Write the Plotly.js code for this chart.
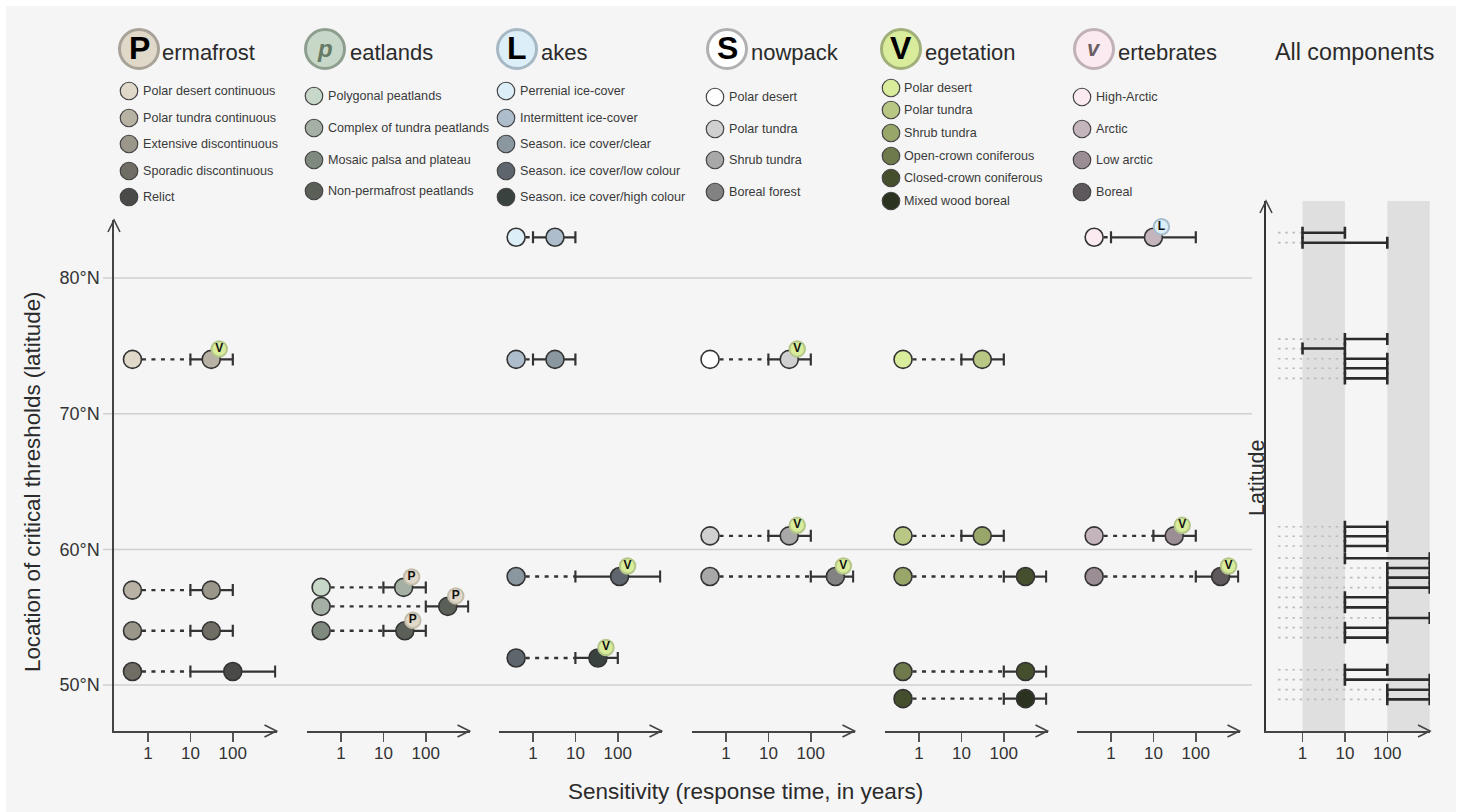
<!DOCTYPE html>
<html>
<head>
<meta charset="utf-8">
<script src="https://cdn.plot.ly/plotly-3.0.1.min.js"></script>
<style>html,body{margin:0;padding:0;background:#fff}</style>
</head>
<body>
<div id="chart" style="width:1464px;height:812px"></div>
<script>
// ---------- data ----------
const xTickValues = [1, 10, 100];
const xTickLabels = ['1', '10', '100'];
const latTickValues = [50, 60, 70, 80];
const latTickLabels = ['50°N', '60°N', '70°N', '80°N'];

const permafrostClasses = ['Polar desert continuous', 'Polar tundra continuous', 'Extensive discontinuous', 'Sporadic discontinuous', 'Relict'];
const permafrostLat = [74, 57, 54, 51];
const permafrostStart = [0.43, 0.43, 0.43, 0.43];
const permafrostLow = [10, 10, 10, 10];
const permafrostHigh = [100, 100, 100, 1000];
const permafrostMid = [31, 31, 31, 100];
const permafrostFrom = [0, 1, 2, 3];
const permafrostTo = [1, 2, 3, 4];
const permafrostBadges = ['V', '', '', ''];

const peatlandClasses = ['Polygonal peatlands', 'Complex of tundra peatlands', 'Mosaic palsa and plateau', 'Non-permafrost peatlands'];
const peatlandLat = [57.2, 55.8, 54];
const peatlandStart = [0.34, 0.34, 0.34];
const peatlandLow = [10, 100, 10];
const peatlandHigh = [100, 1000, 100];
const peatlandMid = [30, 330, 32];
const peatlandFrom = [0, 1, 2];
const peatlandTo = [1, 3, 3];
const peatlandBadges = ['P', 'P', 'P'];

const lakeClasses = ['Perrenial ice-cover', 'Intermittent ice-cover', 'Season. ice cover/clear', 'Season. ice cover/low colour', 'Season. ice cover/high colour'];
const lakeLat = [83, 74, 58, 52];
const lakeStart = [0.4, 0.4, 0.4, 0.4];
const lakeLow = [1, 1, 10, 10];
const lakeHigh = [10, 10, 1000, 100];
const lakeMid = [3.3, 3.3, 110, 34];
const lakeFrom = [0, 1, 2, 3];
const lakeTo = [1, 2, 3, 4];
const lakeBadges = ['', '', 'V', 'V'];

const snowClasses = ['Polar desert', 'Polar tundra', 'Shrub tundra', 'Boreal forest'];
const snowLat = [74, 61, 58];
const snowStart = [0.42, 0.42, 0.42];
const snowLow = [10, 10, 100];
const snowHigh = [100, 100, 1000];
const snowMid = [31, 31, 380];
const snowFrom = [0, 1, 2];
const snowTo = [1, 2, 3];
const snowBadges = ['V', 'V', 'V'];

const vegetationClasses = ['Polar desert', 'Polar tundra', 'Shrub tundra', 'Open-crown coniferous', 'Closed-crown coniferous', 'Mixed wood boreal'];
const vegetationLat = [74, 61, 58, 51, 49];
const vegetationStart = [0.42, 0.42, 0.42, 0.42, 0.42];
const vegetationLow = [10, 10, 100, 100, 100];
const vegetationHigh = [100, 100, 1000, 1000, 1000];
const vegetationMid = [31, 31, 325, 325, 325];
const vegetationFrom = [0, 1, 2, 3, 4];
const vegetationTo = [1, 2, 4, 4, 5];
const vegetationBadges = ['', '', '', '', ''];

const vertebrateClasses = ['High-Arctic', 'Arctic', 'Low arctic', 'Boreal'];
const vertebrateLat = [83, 61, 58];
const vertebrateStart = [0.4, 0.4, 0.4];
const vertebrateLow = [1, 10, 100];
const vertebrateHigh = [100, 100, 1000];
const vertebrateMid = [10, 31, 385];
const vertebrateFrom = [0, 1, 2];
const vertebrateTo = [1, 2, 3];
const vertebrateBadges = ['L', 'V', 'V'];

const allLat = [83.34, 82.6, 75.5, 74.8, 74.05, 73.35, 72.6, 61.67, 60.97, 60.25, 59.35, 58.63, 57.92, 57.18, 56.47, 55.73, 54.95, 54.23, 53.5, 51.13, 50.4, 49.66, 48.95];
const allLow = [1, 1, 10, 1, 10, 10, 10, 10, 10, 10, 10, 100, 100, 100, 10, 10, 100, 10, 10, 10, 10, 100, 100];
const allHigh = [10, 100, 100, 10, 100, 100, 100, 100, 100, 100, 1000, 1000, 1000, 1000, 100, 100, 1000, 100, 100, 100, 1000, 1000, 1000];
const allStart = 0.265;

// ---------- styles and layout ----------
const permafrostPalette = ['#e0d8c8', '#b8b2a4', '#9a968a', '#706e64', '#4a4a48'];
const peatlandPalette = ['#c8d8c8', '#a4b0a4', '#7e8a7e', '#5a6058'];
const lakePalette = ['#dceef8', '#aebdcc', '#8a979f', '#5e656c', '#3a4240'];
const snowPalette = ['#ffffff', '#d0d0d0', '#a8a8a8', '#828282'];
const vegetationPalette = ['#d8ec9c', '#b8c884', '#98a66a', '#6e7a4c', '#454f2e', '#2b3320'];
const vertebratePalette = ['#fbeaef', '#c4b4bc', '#9a8e94', '#5e585c'];

const W = 1464, H = 812, FONT = '"Liberation Sans", Arial, sans-serif';
const fx = p => p / W, fy = p => 1 - p / H;
const BOTTOM = 731, TOP = 220, TOP_ALL = 201, DEC = 42.4;
const pxLat = p => 80 - (p - 278) / 13.57;
const INK = '#333333';

const panels = [
  {tick1: 148, lat: permafrostLat, start: permafrostStart, low: permafrostLow, high: permafrostHigh, mid: permafrostMid, from: permafrostFrom, to: permafrostTo, badges: permafrostBadges, pal: permafrostPalette,
   classes: permafrostClasses, cx: 139, head: 'P', rest: 'ermafrost', restX: 161, lx: 129, ly: [91, 118, 144, 171, 197], ring: '#a8a298', letter: {size: 32, color: '#000', bold: true}},
  {tick1: 341, lat: peatlandLat, start: peatlandStart, low: peatlandLow, high: peatlandHigh, mid: peatlandMid, from: peatlandFrom, to: peatlandTo, badges: peatlandBadges, pal: peatlandPalette,
   classes: peatlandClasses, cx: 325, head: 'p', rest: 'eatlands', restX: 349, lx: 314, ly: [96, 128, 160, 191], ring: '#8f9f8f', letter: {size: 24, color: '#667a66', bold: true, italic: true}},
  {tick1: 533, lat: lakeLat, start: lakeStart, low: lakeLow, high: lakeHigh, mid: lakeMid, from: lakeFrom, to: lakeTo, badges: lakeBadges, pal: lakePalette,
   classes: lakeClasses, cx: 517, head: 'L', rest: 'akes', restX: 540, lx: 506, ly: [91, 118, 144, 171, 197], ring: '#a6b8c4', letter: {size: 32, color: '#000', bold: true}},
  {tick1: 726, lat: snowLat, start: snowStart, low: snowLow, high: snowHigh, mid: snowMid, from: snowFrom, to: snowTo, badges: snowBadges, pal: snowPalette,
   classes: snowClasses, cx: 727, head: 'S', rest: 'nowpack', restX: 750, lx: 715, ly: [97, 129, 160, 192], ring: '#b0b0b0', letter: {size: 32, color: '#000', bold: true}},
  {tick1: 919, lat: vegetationLat, start: vegetationStart, low: vegetationLow, high: vegetationHigh, mid: vegetationMid, from: vegetationFrom, to: vegetationTo, badges: vegetationBadges, pal: vegetationPalette,
   classes: vegetationClasses, cx: 901, head: 'V', rest: 'egetation', restX: 924, lx: 891, ly: [88, 110, 133, 156, 178, 201], ring: '#a0b078', letter: {size: 32, color: '#000', bold: true}},
  {tick1: 1111, lat: vertebrateLat, start: vertebrateStart, low: vertebrateLow, high: vertebrateHigh, mid: vertebrateMid, from: vertebrateFrom, to: vertebrateTo, badges: vertebrateBadges, pal: vertebratePalette,
   classes: vertebrateClasses, cx: 1094, head: 'v', rest: 'ertebrates', restX: 1117, lx: 1082, ly: [97, 129, 160, 192], ring: '#c0b0b8', letter: {size: 22, color: '#6b5f66', bold: true, italic: true}}
];
const badgeStyle = {
  P: {fill: '#e0d8c8', ring: '#c4bdac'},
  V: {fill: '#d8ec9c', ring: '#b4c688'},
  L: {fill: '#dceef8', ring: '#a6bccb'}
};

const traces = [], shapes = [], annotations = [];
const layout = {
  width: W, height: H, autosize: false, showlegend: false, hovermode: false,
  margin: {l: 0, r: 0, t: 0, b: 0, pad: 0},
  paper_bgcolor: '#ffffff', plot_bgcolor: 'rgba(0,0,0,0)',
  font: {family: FONT, color: INK}
};

function xAxis(left, right, tick1, anchor) {
  return {
    type: 'log', domain: [fx(left), fx(right)],
    range: [(left - tick1) / DEC, (right - tick1) / DEC],
    anchor: anchor, tickmode: 'array', tickvals: xTickValues, ticktext: xTickLabels,
    ticks: 'outside', ticklen: 9, tickwidth: 1.5, tickcolor: '#555', ticklabelstandoff: -3,
    tickfont: {size: 17, color: '#333'}, showgrid: false, zeroline: false,
    showline: true, linecolor: '#444', linewidth: 1.6
  };
}
function arrowRight(tip, y) {
  shapes.push({type: 'path', xref: 'paper', yref: 'paper', layer: 'above',
    path: `M ${fx(tip - 12)} ${fy(y - 6)} L ${fx(tip)} ${fy(y)} L ${fx(tip - 12)} ${fy(y + 6)}`,
    line: {color: '#444', width: 1.6}});
}
function arrowUp(x, tip) {
  shapes.push({type: 'path', xref: 'paper', yref: 'paper', layer: 'above',
    path: `M ${fx(x - 6)} ${fy(tip + 12)} L ${fx(x)} ${fy(tip)} L ${fx(x + 6)} ${fy(tip + 12)}`,
    line: {color: '#444', width: 1.6}});
}
function note(text, x, y, size, opt) {
  annotations.push(Object.assign({text: text, x: fx(x), y: fy(y), xref: 'paper', yref: 'paper',
    showarrow: false, xanchor: 'left', yanchor: 'middle', borderpad: 0,
    font: {family: FONT, size: size, color: '#2b2b2b'}}, opt || {}));
}
function circle(cx, cy, d, fill, ring, lw) {
  shapes.push({type: 'circle', xref: 'paper', yref: 'paper', layer: 'above',
    x0: fx(cx - d / 2), x1: fx(cx + d / 2), y0: fy(cy + d / 2), y1: fy(cy - d / 2),
    fillcolor: fill, line: {color: ring, width: lw}});
}

// page background
shapes.push({type: 'rect', xref: 'paper', yref: 'paper', layer: 'below',
  x0: fx(6), x1: fx(1456), y0: 0, y1: fy(6), fillcolor: '#f5f5f5', line: {width: 0}});
// horizontal rules
latTickValues.forEach(v => shapes.push({type: 'line', xref: 'paper', yref: 'y', layer: 'below',
  x0: fx(103), x1: fx(1252), y0: v, y1: v, line: {color: '#cfcfcf', width: 1.5}}));

// latitude axes
layout.yaxis = {
  domain: [fy(BOTTOM), fy(TOP)], range: [pxLat(BOTTOM), pxLat(TOP)], anchor: 'x',
  tickmode: 'array', tickvals: latTickValues, ticktext: latTickLabels,
  ticks: 'outside', ticklen: 9, tickcolor: 'rgba(0,0,0,0)', tickfont: {size: 18, color: '#333'},
  showgrid: false, zeroline: false, showline: true, linecolor: '#444', linewidth: 1.6
};
layout.yaxis2 = {
  domain: [fy(BOTTOM), fy(TOP_ALL)], range: [pxLat(BOTTOM), pxLat(TOP_ALL)], anchor: 'x7',
  showticklabels: false, ticks: '', showgrid: false, zeroline: false,
  showline: true, linecolor: '#333', linewidth: 1.6
};
arrowUp(114, TOP);
arrowUp(1266, TOP_ALL);

panels.forEach((p, i) => {
  const id = i === 0 ? 'x' : 'x' + (i + 1);
  const left = p.tick1 - 34, right = p.tick1 + 128.5;
  layout['xaxis' + (i === 0 ? '' : i + 1)] = xAxis(left, right, p.tick1, 'y');
  arrowRight(right, BOTTOM);

  // dashed lead-in lines
  const dx = [], dy = [];
  p.lat.forEach((lat, k) => { dx.push(p.start[k], p.low[k], null); dy.push(lat, lat, null); });
  traces.push({type: 'scatter', mode: 'lines', xaxis: id, yaxis: 'y', x: dx, y: dy, cliponaxis: false,
    line: {color: INK, width: 2.4, dash: '4px,5.5px'}});
  // sensitivity range + response marker
  traces.push({type: 'scatter', mode: 'markers', xaxis: id, yaxis: 'y', x: p.mid, y: p.lat, cliponaxis: false,
    error_x: {type: 'data', symmetric: false,
      array: p.high.map((h, k) => h - p.mid[k]), arrayminus: p.low.map((l, k) => p.mid[k] - l),
      color: INK, thickness: 2.2, width: 6},
    marker: {size: 18, color: p.to.map(c => p.pal[c]), line: {color: INK, width: 1.6}}});
  // state marker on the left
  traces.push({type: 'scatter', mode: 'markers', xaxis: id, yaxis: 'y', x: p.start, y: p.lat, cliponaxis: false,
    marker: {size: 18, color: p.from.map(c => p.pal[c]), line: {color: INK, width: 1.6}}});
  // interaction badges
  const idx = p.badges.map((b, k) => b ? k : -1).filter(k => k >= 0);
  if (idx.length) {
    traces.push({type: 'scatter', mode: 'markers+text', xaxis: id, yaxis: 'y', cliponaxis: false,
      x: idx.map(k => p.mid[k] * Math.pow(10, 8 / DEC)),
      y: idx.map(k => p.lat[k] + 10.5 / 13.57),
      text: idx.map(k => p.badges[k]), textposition: 'middle center',
      textfont: {family: FONT, size: 12, color: '#111', weight: 'bold'},
      marker: {size: 15.5, color: idx.map(k => badgeStyle[p.badges[k]].fill),
        line: {color: idx.map(k => badgeStyle[p.badges[k]].ring), width: 2}}});
  }

  // header
  circle(p.cx, 49, 39, p.pal[0], p.ring, 3);
  const L = p.letter;
  let t = p.head;
  if (L.italic) t = '<i>' + t + '</i>';
  if (L.bold) t = '<b>' + t + '</b>';
  note(t, p.cx, 48, L.size, {xanchor: 'center', font: {family: FONT, size: L.size, color: L.color}});
  note(p.rest, p.restX, 52, 22);
  // class key
  p.classes.forEach((name, k) => {
    circle(p.lx, p.ly[k], 17.5, p.pal[k], '#444', 1.2);
    note(name, p.lx + 12.5, p.ly[k], 12.6, {font: {family: FONT, size: 12.6, color: '#3a3a3a'}});
  });
});

// all components panel
layout.xaxis7 = xAxis(1266, 1430, 1302.5, 'y2');
arrowRight(1430, BOTTOM);
[[1, 10], [100, 1000]].forEach(b => shapes.push({type: 'rect', xref: 'x7', yref: 'paper', layer: 'below',
  x0: b[0], x1: b[1], y0: fy(BOTTOM), y1: fy(TOP_ALL), fillcolor: '#dfdfdf', line: {width: 0}}));
const gx = [], gy = [];
allLat.forEach((lat, k) => { gx.push(allStart, allLow[k], null); gy.push(lat, lat, null); });
traces.push({type: 'scatter', mode: 'lines', xaxis: 'x7', yaxis: 'y2', x: gx, y: gy, cliponaxis: false,
  line: {color: '#bcbcbc', width: 1.7, dash: '2.5px,4.7px'}});
traces.push({type: 'scatter', mode: 'markers', xaxis: 'x7', yaxis: 'y2', x: allLow, y: allLat, cliponaxis: false,
  marker: {size: 1, color: 'rgba(0,0,0,0)'},
  error_x: {type: 'data', symmetric: false, array: allHigh.map((h, k) => h - allLow[k]),
    arrayminus: allLow.map(() => 0), color: '#2b2b2b', thickness: 2.6, width: 6}});

// titles
note('All components', 1274, 52, 23.3);
note('Sensitivity (response time, in years)', 745, 791, 22.5, {xanchor: 'center'});
note('Location of critical thresholds (latitude)', 32, 482, 22.3, {xanchor: 'center', textangle: -90});
note('Latitude', 1257, 478, 21.5, {xanchor: 'center', textangle: -90});

layout.shapes = shapes;
layout.annotations = annotations;
Plotly.newPlot('chart', traces, layout, {displayModeBar: false, staticPlot: true});
</script>
</body>
</html>
